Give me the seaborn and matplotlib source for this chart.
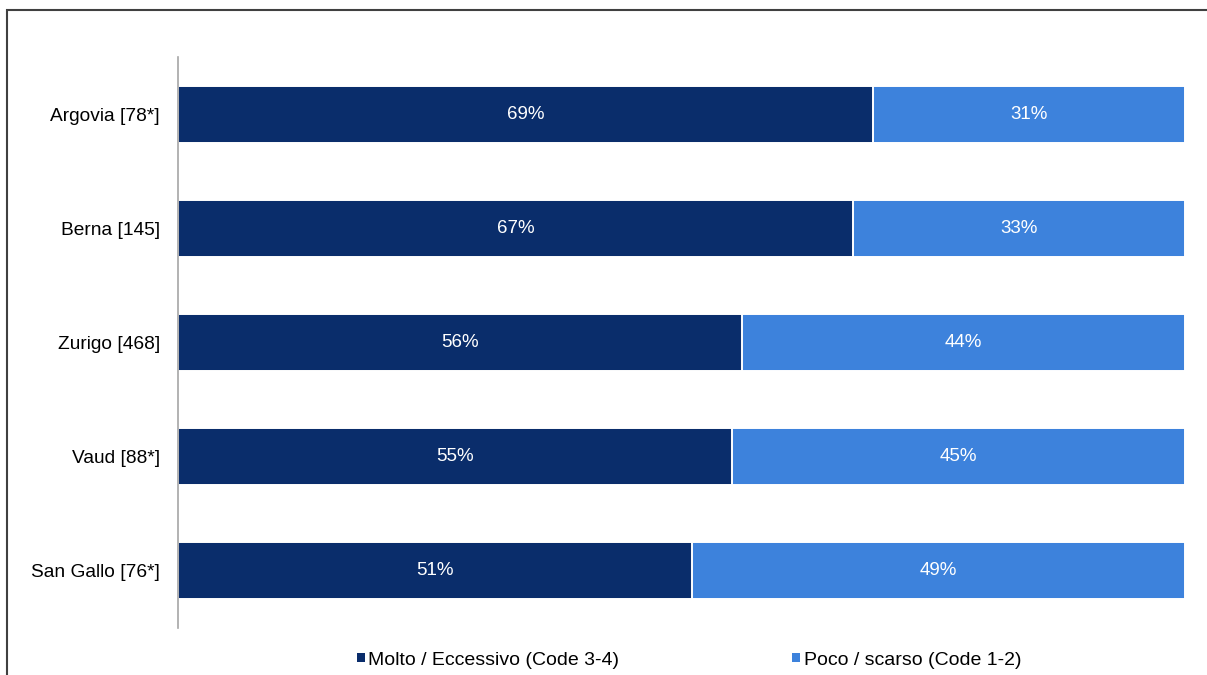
import matplotlib
matplotlib.use("Agg")
import matplotlib.pyplot as plt
from matplotlib.patches import Patch, Rectangle
import seaborn as sns
import pandas as pd

# Cantons with sample size, and share of answers per group (%)
cantons = ["Argovia [78*]", "Berna [145]", "Zurigo [468]", "Vaud [88*]", "San Gallo [76*]"]
molto = [69, 67, 56, 55, 51]
poco = [31, 33, 44, 45, 49]
series_names = ["Molto / Eccessivo (Code 3-4)", "Poco / scarso (Code 1-2)"]

dark = "#0a2d6b"
light = "#3d82dc"

sns.set_theme(style="white")
plt.rcParams["font.family"] = ["Liberation Sans", "DejaVu Sans"]

df = pd.DataFrame({"canton": cantons, "molto": molto, "poco": poco})
df["total"] = df["molto"] + df["poco"]

fig = plt.figure(figsize=(12.07, 6.75), dpi=100)
ax = fig.add_axes([0.1475, 0.0696, 0.8343, 0.846])

# Light segment spans the full stack; dark segment drawn over it from zero.
# Both carry the same thin white outline so their heights stay equal.
sns.barplot(data=df, y="canton", x="total", order=cantons, color=light,
            width=0.5, orient="h", ax=ax, saturation=1,
            edgecolor="white", linewidth=1.4)
sns.barplot(data=df, y="canton", x="molto", order=cantons, color=dark,
            width=0.5, orient="h", ax=ax, saturation=1,
            edgecolor="white", linewidth=1.4)

for i, (m, p) in enumerate(zip(molto, poco)):
    ax.text(m / 2, i, f"{m}%", ha="center", va="center", color="white", fontsize=13.5)
    ax.text(m + p / 2, i, f"{p}%", ha="center", va="center", color="white", fontsize=13.5)

ax.set_xlim(0, 100)
ax.set_ylim(4.5, -0.5)
ax.set_xlabel("")
ax.set_ylabel("")
ax.set_xticks([])
ax.tick_params(axis="y", length=0, pad=13, labelsize=13.8, labelcolor="#000000")
for s in ["top", "right", "bottom"]:
    ax.spines[s].set_visible(False)
ax.spines["left"].set_color("#a6a6a6")
ax.spines["left"].set_linewidth(1.2)
ax.spines["left"].set_zorder(5)

handles = [Patch(facecolor=dark, edgecolor="none"), Patch(facecolor=light, edgecolor="none")]
fig.legend(handles, series_names, loc="center", bbox_to_anchor=(0.571, 0.022),
           ncol=2, frameon=False, fontsize=14, handlelength=0.38, handleheight=0.38,
           handletextpad=0.2, columnspacing=8.9, borderaxespad=0,
           labelcolor="#000000")

# Outer frame around the chart area
fig.patches.append(Rectangle((7 / 1207, -0.2), 1.2, 0.2 + 1 - 10 / 675,
                             transform=fig.transFigure, fill=False,
                             edgecolor="#404040", linewidth=1.5))

fig.savefig("out.png", dpi=100)
